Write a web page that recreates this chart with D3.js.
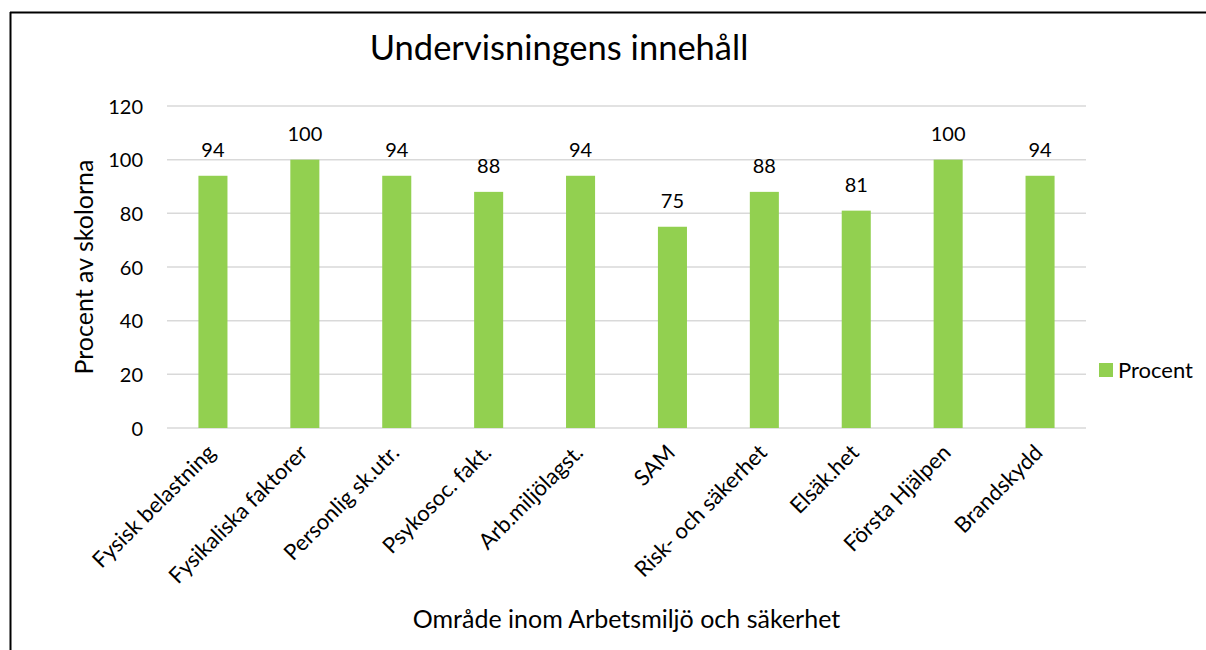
<!DOCTYPE html>
<html>
<head>
<meta charset="utf-8">
<script src="https://cdn.jsdelivr.net/npm/d3@7"></script>
<style>
  body { margin: 0; background: #fff; }
  svg { display: block; font-family: Lato, "Open Sans", sans-serif; }
</style>
</head>
<body>
<script>
// data
var categories = ["Fysisk belastning", "Fysikaliska faktorer", "Personlig sk.utr.", "Psykosoc. fakt.",
    "Arb.miljölagst.", "SAM", "Risk- och säkerhet", "Elsäk.het", "Första Hjälpen", "Brandskydd"];
var values = [94, 100, 94, 88, 94, 75, 88, 81, 100, 94];
var yTicks = [0, 20, 40, 60, 80, 100, 120];
var seriesName = "Procent";
var chartTitle = "Undervisningens innehåll";
var xTitle = "Område inom Arbetsmiljö och säkerhet";
var yTitle = "Procent av skolorna";

var W = 1206, H = 650;
var plot = { left: 167, right: 1086, top: 106, bottom: 428 };
var green = "#92d050";

var svg = d3.select("body").append("svg")
    .attr("width", W)
    .attr("height", H);

// ram runt diagrammet (topp + vänster)
svg.append("line")
    .attr("x1", 10).attr("x2", W).attr("y1", 12.5).attr("y2", 12.5)
    .attr("stroke", "#000").attr("stroke-width", 2);
svg.append("line")
    .attr("x1", 10.5).attr("x2", 10.5).attr("y1", 12).attr("y2", H)
    .attr("stroke", "#000").attr("stroke-width", 2);

var x = d3.scaleBand()
    .domain(categories)
    .range([plot.left, plot.right])
    .paddingInner(0.684)
    .paddingOuter(0.342);

var y = d3.scaleLinear()
    .domain([0, 120])
    .range([plot.bottom, plot.top]);

// stödlinjer
svg.append("g")
    .selectAll("line")
    .data(yTicks)
    .enter()
    .append("line")
    .attr("x1", plot.left)
    .attr("x2", plot.right)
    .attr("y1", d => y(d))
    .attr("y2", d => y(d))
    .attr("stroke", "#d9d9d9")
    .attr("stroke-width", 1.5);

// y-axel
var yAxis = svg.append("g")
    .attr("transform", "translate(" + plot.left + ",0)")
    .call(d3.axisLeft(y).tickValues(yTicks).tickSize(0).tickPadding(24));
yAxis.select(".domain").remove();
yAxis.selectAll("text")
    .attr("font-family", "Lato")
    .attr("font-size", 20)
    .attr("fill", "#000")
    .attr("dy", "0.36em");

// staplar
svg.append("g")
    .selectAll("rect")
    .data(values)
    .enter()
    .append("rect")
    .attr("x", (d, i) => x(categories[i]))
    .attr("y", d => y(d))
    .attr("width", x.bandwidth())
    .attr("height", d => y(0) - y(d))
    .attr("fill", green);

// dataetiketter
svg.append("g")
    .selectAll("text")
    .data(values)
    .enter()
    .append("text")
    .attr("x", (d, i) => x(categories[i]) + x.bandwidth() / 2)
    .attr("y", d => y(d) - 19)
    .attr("text-anchor", "middle")
    .attr("font-size", 20)
    .attr("fill", "#000")
    .text(d => d);

// x-etiketter, roterade
svg.append("g")
    .selectAll("text")
    .data(categories)
    .enter()
    .append("text")
    .attr("transform", d => "translate(" + (x(d) + x.bandwidth() / 2 + 4) + "," + (plot.bottom + 26) + ") rotate(-45)")
    .attr("text-anchor", "end")
    .attr("font-size", 22)
    .attr("fill", "#000")
    .text(d => d);

// titel
svg.append("text")
    .attr("x", 559)
    .attr("y", 60)
    .attr("text-anchor", "middle")
    .attr("font-size", 34.5)
    .attr("fill", "#000")
    .text(chartTitle);

// axeltitlar
svg.append("text")
    .attr("transform", "translate(93," + (plot.top + plot.bottom) / 2 + ") rotate(-90)")
    .attr("text-anchor", "middle")
    .attr("font-size", 25)
    .attr("fill", "#000")
    .text(yTitle);

svg.append("text")
    .attr("x", (plot.left + plot.right) / 2)
    .attr("y", 628)
    .attr("text-anchor", "middle")
    .attr("font-size", 25)
    .attr("fill", "#000")
    .text(xTitle);

// förklaring
var legend = svg.append("g").attr("transform", "translate(1099,363)");
legend.append("rect")
    .attr("width", 14)
    .attr("height", 14)
    .attr("fill", green);
legend.append("text")
    .attr("x", 19)
    .attr("y", 15)
    .attr("font-size", 22)
    .attr("fill", "#000")
    .text(seriesName);
</script>
</body>
</html>
